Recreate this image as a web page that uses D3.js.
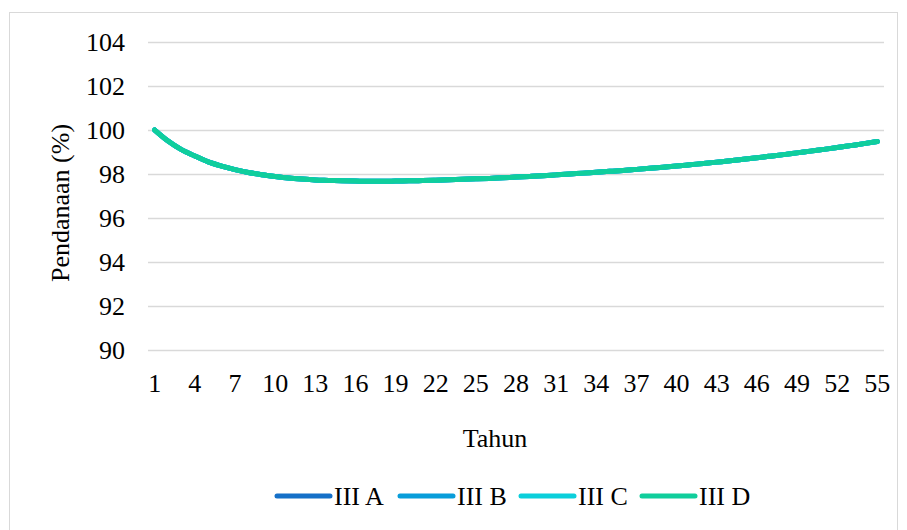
<!DOCTYPE html>
<html>
<head>
<meta charset="utf-8">
<script src="https://cdn.jsdelivr.net/npm/d3@7"></script>
</head>
<body style="margin:0;padding:0;background:#fff;">
<svg id="chart" width="907" height="530" style="display:block"></svg>
<script>
// ---- Data ----
const years = d3.range(1, 56); // 1..55
const xTickLabels = [1, 4, 7, 10, 13, 16, 19, 22, 25, 28, 31, 34, 37, 40, 43, 46, 49, 52, 55];
const yTickValues = [90, 92, 94, 96, 98, 100, 102, 104];
const seriesNames = ["III A", "III B", "III C", "III D"];
const seriesColors = ["#1570c8", "#089dda", "#0bcfdb", "#10ce9c"];

const valuesIIIA = [100.00, 99.50, 99.11, 98.82, 98.55, 98.36, 98.20, 98.07, 97.97, 97.89,
  97.82, 97.77, 97.73, 97.71, 97.69, 97.68, 97.67, 97.67, 97.68, 97.69,
  97.70, 97.72, 97.74, 97.76, 97.78, 97.80, 97.83, 97.86, 97.89, 97.92,
  97.96, 98.00, 98.04, 98.08, 98.12, 98.16, 98.21, 98.26, 98.31, 98.36,
  98.42, 98.48, 98.54, 98.60, 98.67, 98.74, 98.81, 98.88, 98.96, 99.04,
  99.12, 99.20, 99.29, 99.38, 99.48];
const valuesIIIB = [100.00, 99.50, 99.11, 98.82, 98.55, 98.36, 98.20, 98.07, 97.97, 97.89,
  97.82, 97.77, 97.73, 97.71, 97.69, 97.68, 97.67, 97.67, 97.68, 97.69,
  97.70, 97.72, 97.74, 97.76, 97.78, 97.80, 97.83, 97.86, 97.89, 97.92,
  97.96, 98.00, 98.04, 98.08, 98.12, 98.16, 98.21, 98.26, 98.31, 98.36,
  98.42, 98.48, 98.54, 98.60, 98.67, 98.74, 98.81, 98.88, 98.96, 99.04,
  99.12, 99.20, 99.29, 99.38, 99.48];
const valuesIIIC = [100.00, 99.50, 99.11, 98.82, 98.55, 98.36, 98.20, 98.07, 97.97, 97.89,
  97.82, 97.77, 97.73, 97.71, 97.69, 97.68, 97.67, 97.67, 97.68, 97.69,
  97.70, 97.72, 97.74, 97.76, 97.78, 97.80, 97.83, 97.86, 97.89, 97.92,
  97.96, 98.00, 98.04, 98.08, 98.12, 98.16, 98.21, 98.26, 98.31, 98.36,
  98.42, 98.48, 98.54, 98.60, 98.67, 98.74, 98.81, 98.88, 98.96, 99.04,
  99.12, 99.20, 99.29, 99.38, 99.48];
const valuesIIID = [100.00, 99.50, 99.11, 98.82, 98.55, 98.36, 98.20, 98.07, 97.97, 97.89,
  97.82, 97.77, 97.73, 97.71, 97.69, 97.68, 97.67, 97.67, 97.68, 97.69,
  97.70, 97.72, 97.74, 97.76, 97.78, 97.80, 97.83, 97.86, 97.89, 97.92,
  97.96, 98.00, 98.04, 98.08, 98.12, 98.16, 98.21, 98.26, 98.31, 98.36,
  98.42, 98.48, 98.54, 98.60, 98.67, 98.74, 98.81, 98.88, 98.96, 99.04,
  99.12, 99.20, 99.29, 99.38, 99.48];

const seriesValues = [valuesIIIA, valuesIIIB, valuesIIIC, valuesIIID];
const series = seriesNames.map((name, i) => ({
  name, color: seriesColors[i],
  points: years.map((y, j) => ({ year: y, value: seriesValues[i][j] }))
}));

const FONT = "Liberation Serif";
const FS = 26;

// ---- Layout ----
const svg = d3.select("#chart");
const plot = { left: 148, right: 884, top: 42, bottom: 350 };

svg.append("rect")
  .attr("x", 9.5).attr("y", 12.5)
  .attr("width", 888).attr("height", 540)
  .attr("fill", "#fff").attr("stroke", "#d9d9d9").attr("stroke-width", 1);

const x = d3.scaleBand().domain(years).range([plot.left, plot.right]).paddingInner(0).paddingOuter(0);
const xc = d => x(d) + x.bandwidth() / 2;
const y = d3.scaleLinear().domain([90, 104]).range([plot.bottom, plot.top]);

// Gridlines + y axis labels
const yAxis = d3.axisLeft(y).tickValues(yTickValues).tickSize(-(plot.right - plot.left)).tickPadding(23).tickFormat(d3.format("d"));
const gy = svg.append("g").attr("transform", `translate(${plot.left},0)`).call(yAxis)
  .attr("font-family", FONT).attr("font-size", FS);
gy.select(".domain").remove();
gy.selectAll(".tick line").attr("stroke", "#d9d9d9").attr("stroke-width", 1.3);
gy.selectAll(".tick text")
  .attr("font-family", FONT).attr("font-size", FS).attr("fill", "#000").attr("dy", "0.34em");

// X axis labels
const xAxis = d3.axisBottom(x).tickValues(xTickLabels).tickSize(0).tickPadding(24);
const gx = svg.append("g").attr("transform", `translate(0,${plot.bottom})`).call(xAxis)
  .attr("font-family", FONT).attr("font-size", FS);
gx.select(".domain").remove();
gx.selectAll(".tick text")
  .attr("font-family", FONT).attr("font-size", FS).attr("fill", "#000");

// Lines
const line = d3.line().x(d => xc(d.year)).y(d => y(d.value)).curve(d3.curveMonotoneX);
svg.append("g").selectAll("path").data(series).join("path")
  .attr("d", d => line(d.points))
  .attr("fill", "none")
  .attr("stroke", d => d.color)
  .attr("stroke-width", 5)
  .attr("stroke-linecap", "round")
  .attr("stroke-linejoin", "round");

// Axis titles
svg.append("text").attr("x", 495).attr("y", 447)
  .attr("text-anchor", "middle").attr("font-family", FONT).attr("font-size", FS).attr("fill", "#000").text("Tahun");
svg.append("text")
  .attr("transform", "translate(69,203) rotate(-90)")
  .attr("text-anchor", "middle").attr("font-family", FONT).attr("font-size", FS).attr("fill", "#000").text("Pendanaan (%)");

// Legend
const legendX = [275, 398, 519, 640];
const lg = svg.append("g").selectAll("g").data(series).join("g")
  .attr("transform", (d, i) => `translate(${legendX[i]},496)`);
lg.append("line").attr("x1", 2).attr("x2", 55).attr("y1", 0).attr("y2", 0)
  .attr("stroke", d => d.color).attr("stroke-width", 5).attr("stroke-linecap", "round");
lg.append("text").attr("x", 59).attr("y", 0).attr("dy", "0.34em")
  .attr("font-family", FONT).attr("font-size", FS).attr("fill", "#000").text(d => d.name);
</script>
</body>
</html>
